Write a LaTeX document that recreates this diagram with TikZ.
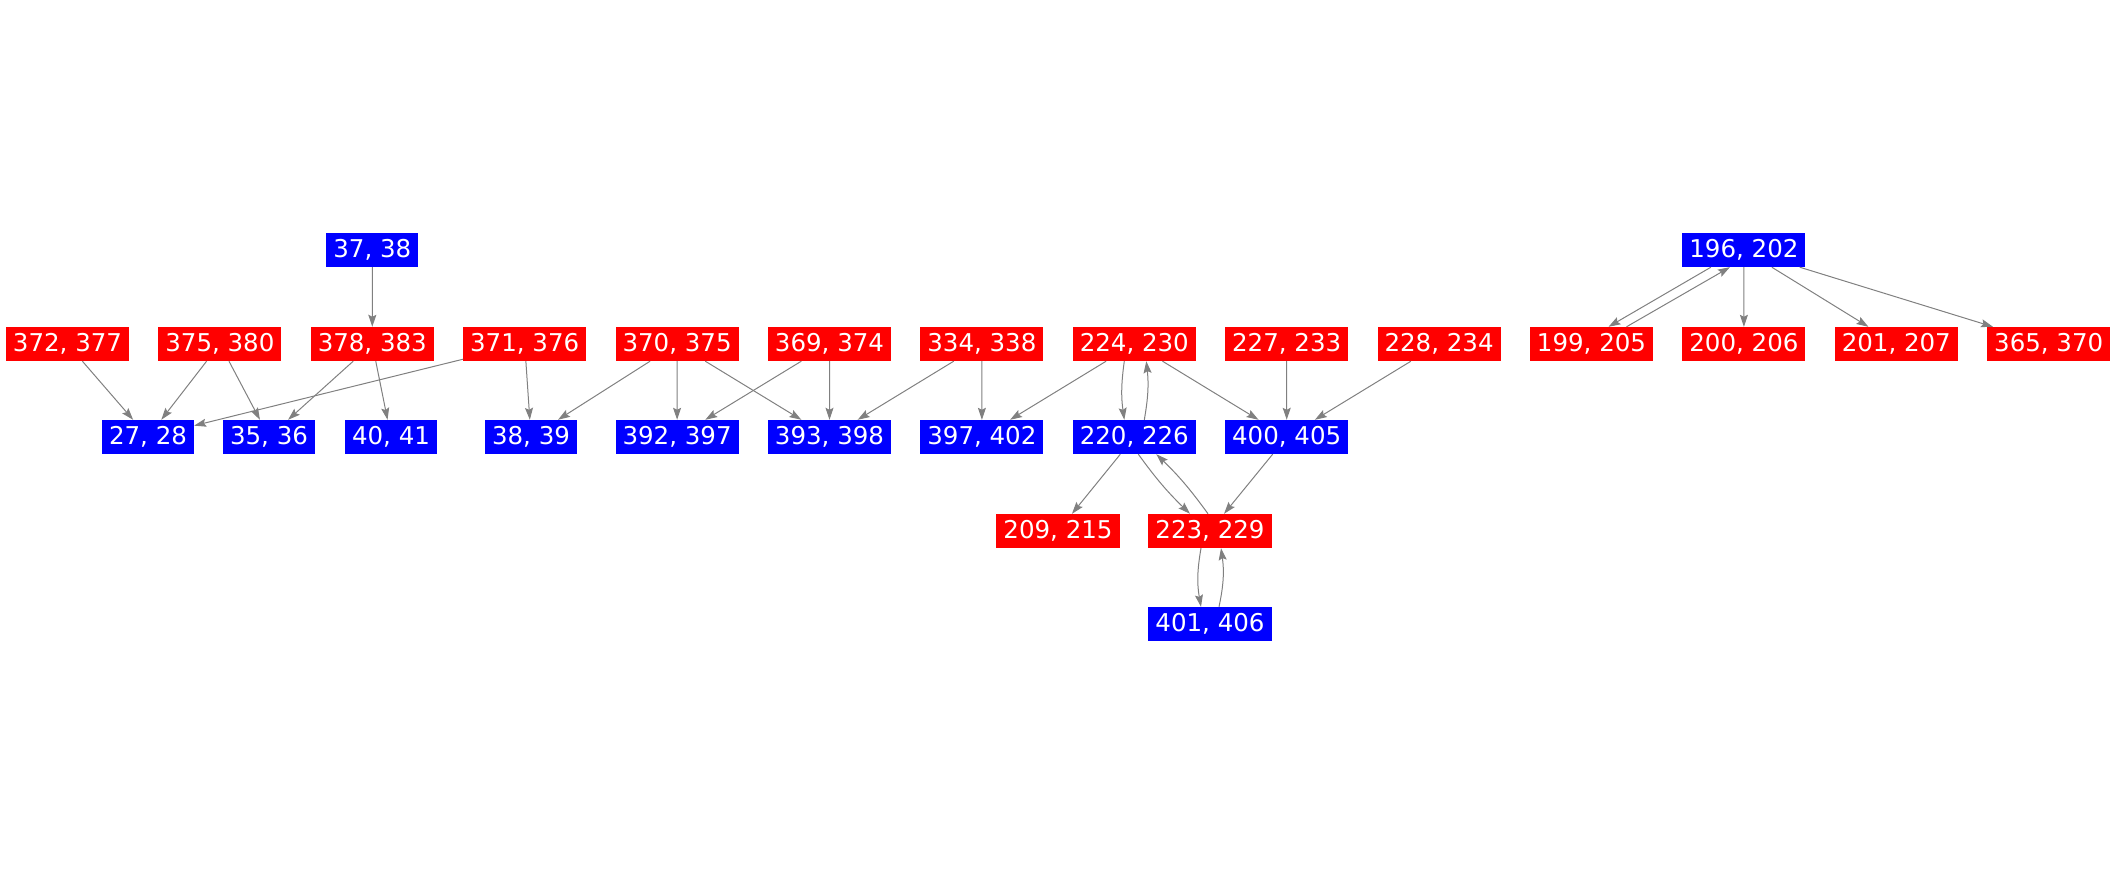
\documentclass[tikz,border=0pt]{standalone}
\usepackage{fontspec}
\setmainfont{DejaVu Sans}
\usetikzlibrary{arrows.meta}
\definecolor{edgegray}{RGB}{128,128,128}
\tikzset{
  box/.style={rectangle, inner xsep=7pt, inner ysep=0pt, minimum height=34pt,
    text=white, font=\fontsize{24.5}{29}\selectfont},
  redbox/.style={box, fill=red},
  bluebox/.style={box, fill=blue},
  edge/.style={draw=edgegray, line width=1pt,
    -{Stealth[length=12pt, width=8pt, inset=2pt]}}
}
\begin{document}
\begin{tikzpicture}[x=1pt, y=1pt]
  \useasboundingbox (0,0) rectangle (2117,875);
  % top row
  \node[bluebox] (b37) at (372.3,625) {37, 38};
  \node[bluebox] (b196) at (1743.9,625) {196, 202};
  % red row
  \foreach \name/\txt [count=\i from 0] in {r372/{372, 377}, r375/{375, 380},
      r378/{378, 383}, r371/{371, 376}, r370/{370, 375}, r369/{369, 374},
      r334/{334, 338}, r224/{224, 230}, r227/{227, 233}, r228/{228, 234},
      r199/{199, 205}, r200/{200, 206}, r201/{201, 207}, r365/{365, 370}}
    \node[redbox] (\name) at (67.5+152.4*\i,531) {\txt};
  % blue row
  \node[bluebox] (b27) at (148,438) {27, 28};
  \node[bluebox] (b35) at (269,438) {35, 36};
  \node[bluebox] (b40) at (391,438) {40, 41};
  \node[bluebox] (b38) at (531,438) {38, 39};
  \node[bluebox] (b392) at (677.1,438) {392, 397};
  \node[bluebox] (b393) at (829.5,438) {393, 398};
  \node[bluebox] (b397) at (981.9,438) {397, 402};
  \node[bluebox] (b220) at (1134.3,438) {220, 226};
  \node[bluebox] (b400) at (1286.7,438) {400, 405};
  % lower rows
  \node[redbox] (r209) at (1058,344) {209, 215};
  \node[redbox] (r223) at (1210,344) {223, 229};
  \node[bluebox] (b401) at (1210,251) {401, 406};
  % edges
  \draw[edge] (b37) -- (r378);
  \draw[edge] (r372) -- (b27);
  \draw[edge] (r375) -- (b27);
  \draw[edge] (r375) -- (b35);
  \draw[edge] (r378) -- (b35);
  \draw[edge] (r378) -- (b40);
  \draw[edge] (r371) -- (b27);
  \draw[edge] (r371) -- (b38);
  \draw[edge] (r370) -- (b38);
  \draw[edge] (r370) -- (b392);
  \draw[edge] (r370) -- (b393);
  \draw[edge] (r369) -- (b392);
  \draw[edge] (r369) -- (b393);
  \draw[edge] (r334) -- (b393);
  \draw[edge] (r334) -- (b397);
  \draw[edge] (r224) -- (b397);
  \draw[edge] ([xshift=-10pt]r224.south) to[bend right=8] ([xshift=-10pt]b220.north);
  \draw[edge] ([xshift=10pt]b220.north) to[bend right=8] ([xshift=12pt]r224.south);
  \draw[edge] (r224) -- (b400);
  \draw[edge] (r227) -- (b400);
  \draw[edge] (r228) -- (b400);
  \draw[edge] (b220) -- (r209);
  \draw[edge] ([xshift=4pt]b220.south) to[bend right=5] ([xshift=-20pt]r223.north);
  \draw[edge] ([xshift=-2pt]r223.north) to[bend right=5] ([xshift=22pt]b220.south);
  \draw[edge] (b400) -- (r223);
  \draw[edge] ([xshift=-9pt]r223.south) to[bend right=10] ([xshift=-9pt]b401.north);
  \draw[edge] ([xshift=9pt]b401.north) to[bend right=10] ([xshift=11pt]r223.south);
  \draw[edge] ([xshift=-33pt]b196.south) -- ([xshift=17pt]r199.north);
  \draw[edge] ([xshift=35pt]r199.north) -- ([xshift=-14pt]b196.south);
  \draw[edge] (b196) -- (r200);
  \draw[edge] (b196) -- (r201);
  \draw[edge] (b196) -- (r365);
\end{tikzpicture}
\end{document}
